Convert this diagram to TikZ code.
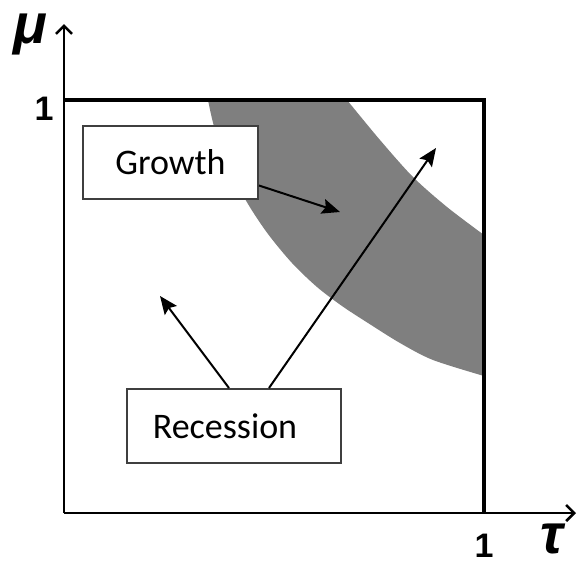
\documentclass[tikz,border=0pt]{standalone}
\usepackage{fontspec}
\setmainfont{Carlito}
\newfontfamily\labfont{Liberation Sans}
\usepackage{tikz}
\usetikzlibrary{calc,arrows.meta,positioning}
\definecolor{bandx}{HTML}{7F7F7F}
\definecolor{edgex}{HTML}{3F3F3F}
\tikzset{
  ar/.style={-{Stealth[length=9pt,width=7.5pt,inset=1.5pt]},line width=1pt,black},
  box/.style={draw=edgex,line width=1pt,fill=white,align=center,font=\fontsize{18}{20}\selectfont},
  ax/.style={-{Straight Barb[length=4pt,width=8pt]},line width=1.3pt},
  frm/.style={line width=1.6pt},
  tick/.style={inner sep=0pt,font=\labfont\bfseries\fontsize{17}{18}\selectfont},
  greek/.style={inner sep=0pt,font=\labfont\bfseries\itshape\fontsize{28}{30}\selectfont}
}
\begin{document}
\begin{tikzpicture}[x=0.5pt,y=0.5pt]
\useasboundingbox (-64,-51) rectangle (514,513);
% shaded band
\fill[bandx] plot[smooth] coordinates {(144,413) (151,383) (166,343) (184,309) (204,279) (228,250) (253,226) (278,207) (304,190) (336,170) (369,153) (420,137)}
  -- (420,278) -- plot[smooth] coordinates {(420,278) (383,306) (349,336) (316,373) (283,413)} -- cycle;
% axes and unit square
\coordinate (o) at (0,0);
\draw[ax] (o) -- (0,489) coordinate (ytop);
\draw[ax] (o) -- (512,0) coordinate (xend);
\draw[frm] (0,413) -- (420,413) -- (420,0);
\node[greek] (mu) at (-34,478) {μ};
\node[greek] (tau) at (488,-26) {τ};
\node[tick] (one1) at (-20,404) {1};
\node[tick] (one2) at (420,-33) {1};
% boxes
\node[box,minimum width=87.5pt,minimum height=36.5pt] (gro) at (106.5,350.5) {Growth};
\node[box,minimum width=107pt,minimum height=37pt] (rec) at (170,87) {Recession\hspace*{9pt}};
% arrows
\coordinate (g1) at (276,301);
\coordinate (r1) at (96,217);
\coordinate (r2) at (372,365);
\draw[ar] ($(gro.east)+(0,-23)$) -- (g1);
\draw[ar] ($(rec.north)+(-5,0)$) -- (r1);
\draw[ar] ($(rec.north)+(35,0)$) -- (r2);
\end{tikzpicture}
\end{document}
